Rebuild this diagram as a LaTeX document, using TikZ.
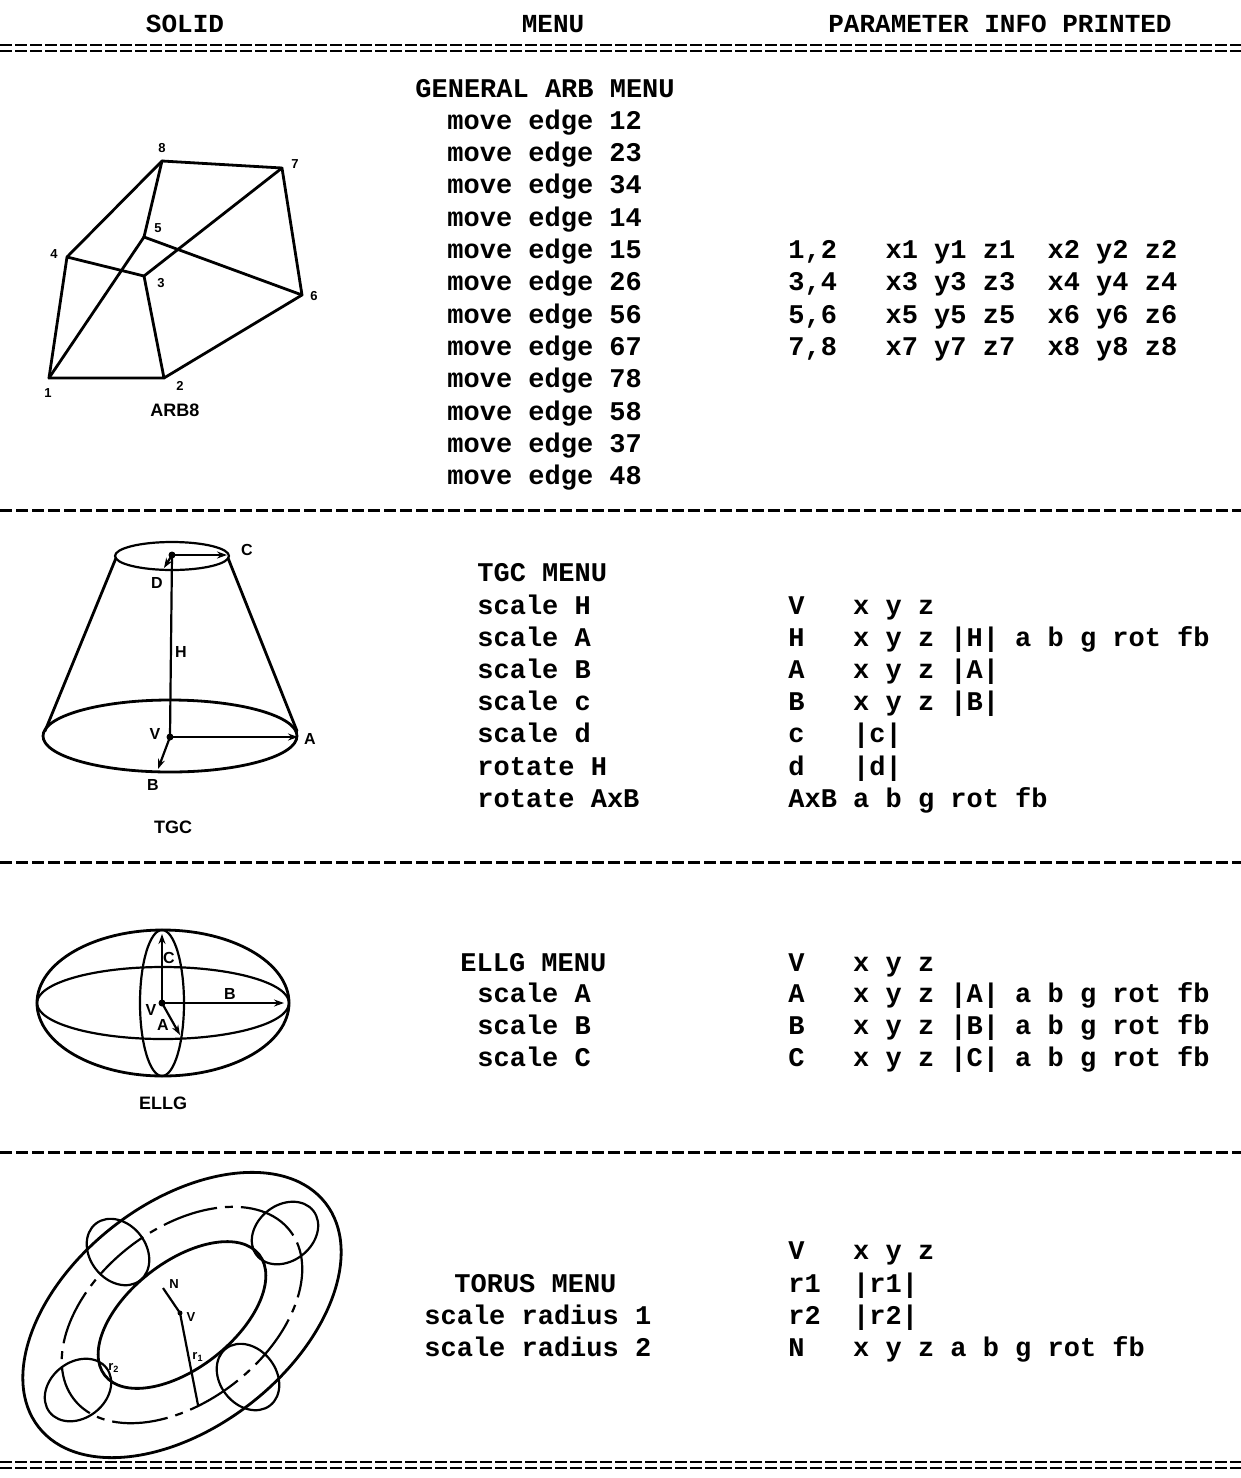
\documentclass[tikz,border=0pt]{standalone}
\usepackage{fontspec}
\setmonofont{Liberation Mono}
\setsansfont{Liberation Sans}
\usetikzlibrary{arrows.meta}
\begin{document}
\begin{tikzpicture}[x=0.5pt,y=-0.5pt,
  txt/.style={font=\ttfamily\bfseries\fontsize{13.5}{16}\selectfont,anchor=base west,inner sep=0pt},
  hdr/.style={font=\ttfamily\bfseries\fontsize{13}{16}\selectfont,anchor=base,inner sep=0pt},
  lbl/.style={font=\sffamily\bfseries\fontsize{6.5}{8}\selectfont,inner sep=0pt},
  lblb/.style={font=\sffamily\bfseries\fontsize{8}{9}\selectfont,inner sep=0pt},
  capt/.style={font=\sffamily\bfseries\fontsize{9}{10}\selectfont,inner sep=0pt},
  sepline/.style={line width=1.5pt,dash pattern=on 6pt off 2pt},
  dblsep/.style={line width=1.2pt,dash pattern=on 6pt off 1.5pt},
  edge3/.style={line width=1.4pt,line join=round,line cap=round},
  thin3/.style={line width=1.1pt},
  arr/.style={-{Stealth[length=5pt,width=3.5pt]}},
  dotn/.style={circle,fill,inner sep=0pt,minimum size=3.5pt}
]
\useasboundingbox (0,0) rectangle (1241,1478);

% ---------- header ----------
\node[hdr] (hsolid) at (185,32) {SOLID};
\node[hdr] (hmenu) at (553,32) {MENU};
\node[hdr] (hparam) at (1000,32) {PARAMETER INFO PRINTED};
\draw[dblsep] (0,45) -- (1241,45);
\draw[dblsep] (0,51) -- (1241,51);

% ---------- ARB8 ----------
\node[txt] (arbm) at (415,97) {GENERAL ARB MENU};
\foreach \t [count=\i from 0] in {12,23,34,14,15,26,56,67,78,58,37,48}
  \node[txt] (me\t) at (447,{129+32.35*\i}) {move edge \t};
\node[txt] (pa1) at (788,{129+32.35*4}) {1,2~~~x1 y1 z1~~x2 y2 z2};
\node[txt] (pa2) at (788,{129+32.35*5}) {3,4~~~x3 y3 z3~~x4 y4 z4};
\node[txt] (pa3) at (788,{129+32.35*6}) {5,6~~~x5 y5 z5~~x6 y6 z6};
\node[txt] (pa4) at (788,{129+32.35*7}) {7,8~~~x7 y7 z7~~x8 y8 z8};

\coordinate (a1) at (49,378);
\coordinate (a2) at (164,378);
\coordinate (a3) at (144,276);
\coordinate (a4) at (67,257);
\coordinate (a5) at (144,237);
\coordinate (a6) at (302,295);
\coordinate (a7) at (282,168);
\coordinate (a8) at (162,161);
\draw[edge3] (a1) -- (a2) -- (a3) -- (a4) -- cycle;
\draw[edge3] (a1) -- (a5);
\draw[edge3] (a5) -- (a6);
\draw[edge3] (a5) -- (a8);
\draw[edge3] (a4) -- (a8) -- (a7) -- (a6) -- (a2);
\draw[edge3] (a3) -- (a7);
\node[lbl] (l8) at (162,148) {8};
\node[lbl] (l7) at (295,164) {7};
\node[lbl] (l5) at (158,228) {5};
\node[lbl] (l4) at (54,254) {4};
\node[lbl] (l3) at (161,283) {3};
\node[lbl] (l6) at (314,296) {6};
\node[lbl] (l2) at (180,386) {2};
\node[lbl] (l1) at (48,393) {1};
\node[capt] (carb) at (175,410) {ARB8};
\draw[sepline] (0,510) -- (1241,510);

% ---------- TGC ----------
\node[txt] (tgcm) at (477,581) {TGC MENU};
\foreach \t [count=\i from 0] in {scale H,scale A,scale B,scale c,scale d,rotate H,rotate AxB}
  \node[txt] (tg\i) at (477,{614+32.2*\i}) {\t};
\node[txt] (tr0) at (788,614) {V~~~x y z};
\node[txt] (tr1) at (788,646.2) {H~~~x y z |H| a b g rot fb};
\node[txt] (tr2) at (788,678.4) {A~~~x y z |A|};
\node[txt] (tr3) at (788,710.6) {B~~~x y z |B|};
\node[txt] (tr4) at (788,742.8) {c~~~|c|};
\node[txt] (tr5) at (788,775) {d~~~|d|};
\node[txt] (tr6) at (788,807.2) {AxB a b g rot fb};

\coordinate (tt) at (172,555);
\coordinate (tv) at (170,737);
\coordinate (tc) at (227,555);
\coordinate (td) at (164,568);
\coordinate (ta) at (298,737);
\coordinate (tbb) at (158,769);
\draw[thin3] (172,556) ellipse [x radius=28.5pt,y radius=7pt];
\draw[edge3] (170,736) ellipse [x radius=63.5pt,y radius=18pt];
\draw[edge3] (116,558) -- (45,731);
\draw[edge3] (228,558) -- (297,731);
\draw[thin3] (tt) -- (tv);
\draw[thin3,arr] (tt) -- (tc);
\draw[thin3,arr] (tt) -- (td);
\draw[thin3,arr] (tv) -- (ta);
\draw[thin3,arr] (tv) -- (tbb);
\node[dotn] (ttd) at (tt) {};
\node[dotn] (tvd) at (tv) {};
\node[lblb] (lc) at (247,550) {C};
\node[lblb] (ld) at (157,583) {D};
\node[lblb] (lh) at (181,652) {H};
\node[lblb] (lv) at (155,734) {V};
\node[lblb] (la) at (310,739) {A};
\node[lblb] (lb) at (153,785) {B};
\node[capt] (ctgc) at (173,827) {TGC};
\draw[sepline] (0,862) -- (1241,862);

% ---------- ELLG ----------
\node[txt] (ellm) at (460,971) {ELLG MENU};
\node[txt] (el1) at (477,1002) {scale A};
\node[txt] (el2) at (477,1034) {scale B};
\node[txt] (el3) at (477,1066) {scale C};
\node[txt] (er0) at (788,971) {V~~~x y z};
\node[txt] (er1) at (788,1002) {A~~~x y z |A| a b g rot fb};
\node[txt] (er2) at (788,1034) {B~~~x y z |B| a b g rot fb};
\node[txt] (er3) at (788,1066) {C~~~x y z |C| a b g rot fb};

\coordinate (ec) at (163,1003);
\coordinate (ev) at (162,1003);
\coordinate (etop) at (162,934);
\coordinate (eb) at (284,1003);
\coordinate (ea) at (180,1035);
\draw[edge3] (ec) ellipse [x radius=63pt,y radius=36.5pt];
\draw[thin3] (ec) ellipse [x radius=63pt,y radius=18pt];
\draw[thin3] (ev) ellipse [x radius=11pt,y radius=36.5pt];
\draw[thin3,arr] (ev) -- (etop);
\draw[thin3,arr] (ev) -- (eb);
\draw[thin3,arr] (ev) -- (ea);
\node[dotn] (evd) at (ev) {};
\node[lblb] (elc) at (169,958) {C};
\node[lblb] (elb) at (230,994) {B};
\node[lblb] (ela) at (163,1025) {A};
\node[lblb] (elv) at (151,1010) {V};
\node[capt] (cellg) at (163,1103) {ELLG};
\draw[sepline] (0,1152) -- (1241,1152);

% ---------- TORUS ----------
\node[txt] (torm) at (454,1292) {TORUS MENU};
\node[txt] (to1) at (424,1324) {scale radius 1};
\node[txt] (to2) at (424,1356) {scale radius 2};
\node[txt] (ors0) at (788,1259) {V~~~x y z};
\node[txt] (ors1) at (788,1292) {r1~~|r1|};
\node[txt] (ors2) at (788,1324) {r2~~|r2|};
\node[txt] (ors3) at (788,1356) {N~~~x y z a b g rot fb};

\coordinate (oc) at (182,1315);
\coordinate (ov) at (180,1313);
\coordinate (on) at (163,1288);
\coordinate (or) at (198,1405);
\draw[edge3,rotate around={38:(oc)}] (oc) ellipse [x radius=91pt,y radius=56pt];
\draw[edge3,rotate around={38:(oc)}] (oc) ellipse [x radius=49pt,y radius=26.5pt];
\draw[thin3,dash pattern=on 28pt off 4pt on 4pt off 4pt,rotate around={38:(oc)}] (oc) ellipse [x radius=68.5pt,y radius=43pt];
\draw[thin3,rotate around={38:(285,1233)}] (285,1233) ellipse [x radius=18pt,y radius=14pt];
\draw[thin3,rotate around={38:(78,1390)}] (78,1390) ellipse [x radius=18pt,y radius=14pt];
\draw[thin3,rotate around={128:(118,1252)}] (118,1252) ellipse [x radius=18pt,y radius=14pt];
\draw[thin3,rotate around={128:(248,1377)}] (248,1377) ellipse [x radius=18pt,y radius=14pt];
\draw[thin3] (on) -- (ov);
\draw[thin3] (ov) -- (or);
\node[dotn,minimum size=2.5pt] (ovd) at (ov) {};
\node[lbl] (lon) at (174,1284) {N};
\node[lbl] (lov) at (191,1317) {V};
\node[lbl] (lor1) at (198,1357) {r\textsubscript{1}};
\node[lbl] (lor2) at (114,1368) {r\textsubscript{2}};
\draw[dblsep] (0,1462) -- (1241,1462);
\draw[dblsep] (0,1468) -- (1241,1468);
\end{tikzpicture}
\end{document}
